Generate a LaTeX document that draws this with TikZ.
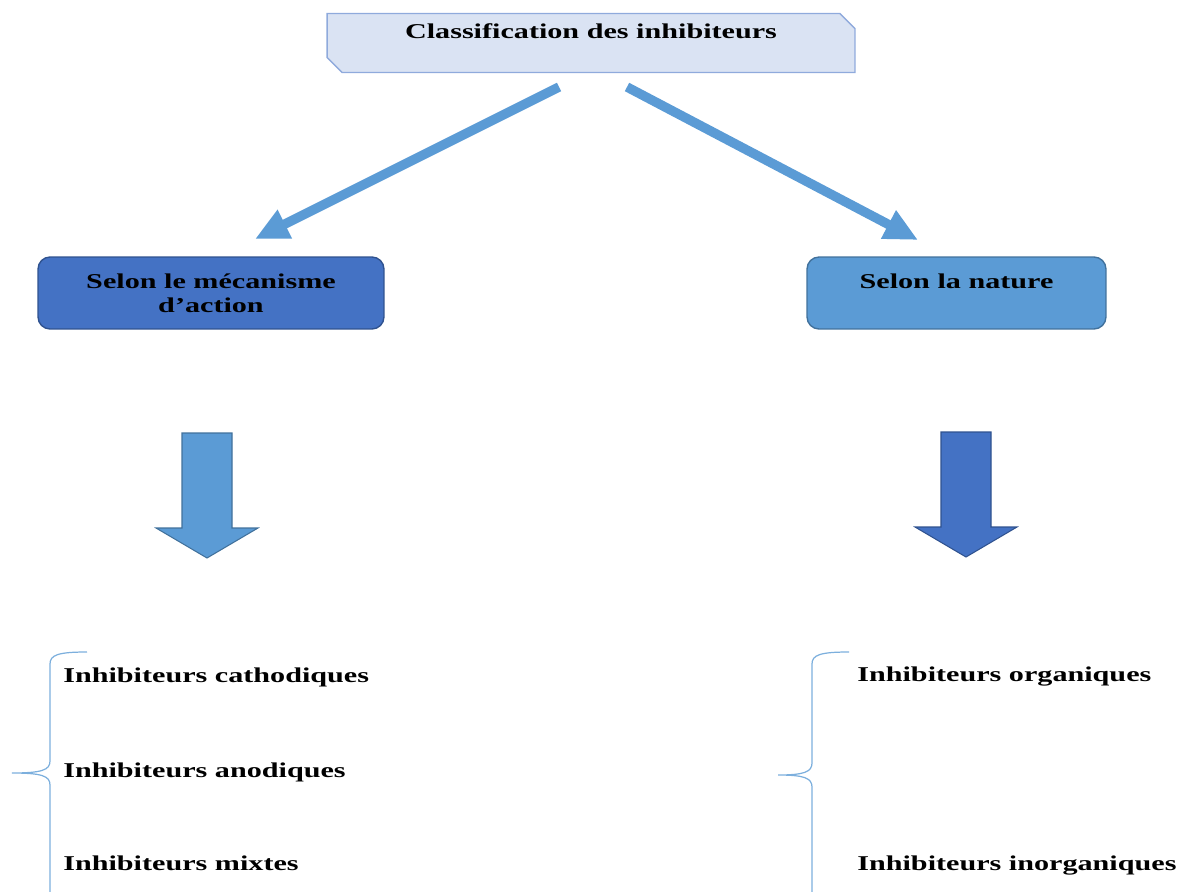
\documentclass[tikz,border=0pt]{standalone}
\usepackage{fontspec}
\newfontfamily\diagfont[FakeStretch=1.43]{Liberation Serif}
\usetikzlibrary{arrows.meta,shapes.misc}
\definecolor{paleblue}{HTML}{DAE3F3}
\definecolor{lineblue}{HTML}{8FAADC}
\definecolor{midblue}{HTML}{5B9BD5}
\definecolor{deepblue}{HTML}{4472C4}
\definecolor{navyedge}{HTML}{2F528F}
\definecolor{steeledge}{HTML}{41719C}

\begin{document}
\begin{tikzpicture}[
  x=0.02cm, y=-0.02cm,
  font=\diagfont\bfseries\fontsize{12}{13.7}\selectfont,
  >={Triangle[length=19pt, width=17pt]},
  topbox/.style={chamfered rectangle, chamfered rectangle corners={north east, south west},
                 chamfered rectangle sep=0.15cm, draw=lineblue, line width=0.8pt,
                 fill=paleblue, inner xsep=0pt, inner ysep=0.05cm, align=center,
                 minimum width=10.56cm},
  catbox/.style={draw, line width=0.8pt, rounded corners=0.24cm, inner sep=0pt,
                 align=center, minimum height=1.44cm},
  mech/.style={catbox, fill=deepblue, draw=navyedge, minimum width=6.92cm},
  natu/.style={catbox, fill=midblue, draw=steeledge, minimum width=5.98cm},
  split/.style={->, draw=midblue, line width=5.4pt},
  item/.style={anchor=base west, inner sep=0pt},
  brc/.style={draw=midblue!80, line width=0.7pt},
]
\clip (0,0) rectangle (1180,892);
\def\blockarrow#1#2#3{\draw[#1] (#2-25,#3) -- (#2+25,#3) -- (#2+25,#3+95) -- (#2+51,#3+95)
  -- (#2,#3+125) -- (#2-51,#3+95) -- (#2-25,#3+95) -- cycle;}
\def\gbrace#1#2#3#4{\draw[brc] (#1+37,#2) .. controls (#1+8,#2) and (#1,#2+3) .. (#1,#2+12)
  -- (#1,#3-12) .. controls (#1,#3-3) and (#1-8,#3) .. (#1-#4,#3)
  .. controls (#1-8,#3) and (#1,#3+3) .. (#1,#3+12) -- (#1,910);}

% ---- boxes -----------------------------------------------------------------
\node[topbox] (title) at (591,43) {Classification des inhibiteurs\\~};
\node[mech] (meca) at (211,293) {Selon le mécanisme\\d’action};
\node[natu] (nat) at (956.5,293) {Selon la nature\\~};

% ---- split arrows ------------------------------------------------------------
\coordinate (ls) at (559,87);  \coordinate (le) at (255,239);
\coordinate (rs) at (627,87);  \coordinate (re) at (918,240);
\draw[split] (ls) -- (le);
\draw[split] (rs) -- (re);

% ---- block arrows ------------------------------------------------------------
\blockarrow{fill=midblue, draw=steeledge, line width=0.6pt}{207}{433}
\blockarrow{fill=deepblue, draw=navyedge, line width=0.6pt}{966}{432}

% ---- lists -------------------------------------------------------------------
\gbrace{50}{652}{773}{38}
\node[item] (cath) at (63,682) {Inhibiteurs cathodiques};
\node[item] (anod) at (63,777) {Inhibiteurs anodiques};
\node[item] (mixt) at (63,870) {Inhibiteurs mixtes};

\gbrace{812}{652}{775}{34}
\node[item] (orga) at (857,681) {Inhibiteurs organiques};
\node[item] (inorg) at (857,870) {Inhibiteurs inorganiques};
\end{tikzpicture}
\end{document}
